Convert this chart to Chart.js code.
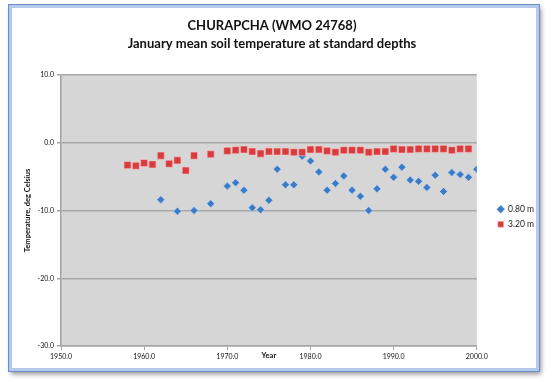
<!DOCTYPE html>
<html>
<head>
<meta charset="utf-8">
<script src="https://cdn.jsdelivr.net/npm/chart.js@4.4.1/dist/chart.umd.min.js"></script>
<style>
  html, body { margin: 0; padding: 0; background: #fff; }
  #wrap { position: relative; width: 550px; height: 380px; }
  #frame {
    position: absolute; left: 9px; top: 5px; width: 524px; height: 360px;
    background: #fff;
    border: 3px solid #b3c9ee;
    outline: 1px solid #6b8cc4;
    box-shadow: 2px 3px 5px rgba(0,0,0,0.45);
  }
  canvas { position: absolute; left: 0; top: 0; }
</style>
</head>
<body>
<div id="wrap">
  <div id="frame"></div>
  <canvas id="chart" width="550" height="380"></canvas>
</div>
<script>
// valeurs
const years080 = [1962, 1964, 1966, 1968, 1970, 1971, 1972, 1973, 1974, 1975, 1976, 1977, 1978, 1979,
  1980, 1981, 1982, 1983, 1984, 1985, 1986, 1987, 1988, 1989, 1990, 1991, 1992, 1993, 1994, 1995,
  1996, 1997, 1998, 1999, 2000];
const temp080 = [-8.4, -10.1, -10.0, -9.0, -6.4, -5.9, -7.0, -9.6, -9.9, -8.5, -3.9, -6.2, -6.2, -2.0,
  -2.7, -4.3, -7.0, -6.0, -4.9, -7.0, -7.9, -10.0, -6.8, -3.9, -5.1, -3.6, -5.5, -5.7, -6.6, -4.8,
  -7.2, -4.4, -4.7, -5.1, -3.9];

const years320 = [1958, 1959, 1960, 1961, 1962, 1963, 1964, 1965, 1966, 1968, 1970, 1971, 1972, 1973,
  1974, 1975, 1976, 1977, 1978, 1979, 1980, 1981, 1982, 1983, 1984, 1985, 1986, 1987, 1988, 1989,
  1990, 1991, 1992, 1993, 1994, 1995, 1996, 1997, 1998, 1999];
const temp320 = [-3.3, -3.4, -3.0, -3.2, -1.9, -3.1, -2.6, -4.1, -1.9, -1.7, -1.2, -1.1, -1.0, -1.3,
  -1.6, -1.3, -1.3, -1.3, -1.4, -1.4, -1.0, -1.0, -1.2, -1.4, -1.1, -1.1, -1.1, -1.4, -1.3, -1.3,
  -0.9, -1.0, -1.0, -0.9, -0.9, -0.9, -0.9, -1.1, -0.9, -0.9];

const xTicks = [1950, 1960, 1970, 1980, 1990, 2000];
const yTicks = [-30, -20, -10, 0, 10];

function toPoints(xs, ys) {
  return xs.map((x, i) => ({ x: x, y: ys[i] }));
}

// fond gris de la zone de tracé
const plotBackground = {
  id: 'plotBackground',
  beforeDraw(chart) {
    const { ctx, chartArea } = chart;
    ctx.save();
    ctx.fillStyle = '#d6d6d6';
    ctx.fillRect(chartArea.left, chartArea.top, chartArea.width, chartArea.height);
    ctx.restore();
  }
};

const ctx = document.getElementById('chart').getContext('2d');
new Chart(ctx, {
  type: 'scatter',
  data: {
    datasets: [{
      label: '0.80 m',
      data: toPoints(years080, temp080),
      pointStyle: 'rectRot',
      pointRadius: 4,
      backgroundColor: '#3b7cc9',
      borderColor: 'rgba(210,225,245,0.6)',
      borderWidth: 1,
      order: 1
    }, {
      label: '3.20 m',
      data: toPoints(years320, temp320),
      pointStyle: 'rect',
      pointRadius: 5,
      backgroundColor: '#da3c3e',
      borderColor: 'rgba(245,205,205,0.6)',
      borderWidth: 1,
      order: 0
    }]
  },
  options: {
    responsive: false,
    animation: false,
    events: [],
    layout: { padding: { left: 0, right: 6, top: 0, bottom: 0 } },
    plugins: {
      title: {
        display: true,
        text: ['CHURAPCHA (WMO 24768)', 'January mean soil temperature at standard depths'],
        color: '#111',
        font: { family: 'Lato', size: 13, weight: 'bold', lineHeight: 1.4 },
        padding: { top: 17, bottom: 21.6 }
      },
      legend: {
        position: 'right',
        // titre vide : sert seulement à descendre les entrées
        title: { display: true, text: '', font: { size: 10, lineHeight: 1 }, padding: { top: 43.5, bottom: 0 } },
        labels: {
          usePointStyle: true,
          boxWidth: 6,
          boxHeight: 6,
          padding: 6.5,
          color: '#222',
          sort: (a, b) => a.datasetIndex - b.datasetIndex,
          font: { family: 'Lato', size: 8.5 }
        }
      },
      tooltip: { enabled: false }
    },
    scales: {
      x: {
        type: 'linear',
        min: xTicks[0],
        max: xTicks[xTicks.length - 1],
        afterBuildTicks: axis => { axis.ticks = xTicks.map(v => ({ value: v })); },
        afterFit: axis => { axis.height = 34; },
        ticks: {
          callback: v => v.toFixed(1),
          color: '#111',
          padding: 3,
          maxRotation: 0,
          font: { family: 'Lato', size: 7 }
        },
        grid: { drawOnChartArea: false, tickLength: 4, color: '#a3a3a3' },
        border: { color: '#a3a3a3', width: 1.5 },
        title: {
          display: true,
          text: 'Year',
          color: '#111',
          font: { family: 'Lato', size: 7.5, weight: 'bold' },
          padding: { top: 0, bottom: 20 }
        }
      },
      y: {
        min: yTicks[0],
        max: yTicks[yTicks.length - 1],
        afterBuildTicks: axis => { axis.ticks = yTicks.map(v => ({ value: v })); },
        afterFit: axis => { axis.width = 61; },
        ticks: {
          callback: v => v.toFixed(1),
          color: '#111',
          padding: 3,
          font: { family: 'Lato', size: 7 }
        },
        grid: { color: '#a8a8a8', lineWidth: 1.5, tickLength: 4 },
        border: { color: '#a3a3a3', width: 1.5 },
        title: {
          display: true,
          text: 'Temperature, deg Celsius',
          color: '#111',
          font: { family: 'Lato', size: 7.5, weight: 'bold' },
          padding: { top: 23, bottom: 0 }
        }
      },
      // axe vide : espace entre la zone de tracé et la légende
      gap: {
        axis: 'y',
        position: 'right',
        ticks: { display: false },
        grid: { display: false },
        border: { display: false },
        afterFit: axis => { axis.width = 14.5; }
      }
    }
  },
  plugins: [plotBackground]
});
</script>
</body>
</html>
